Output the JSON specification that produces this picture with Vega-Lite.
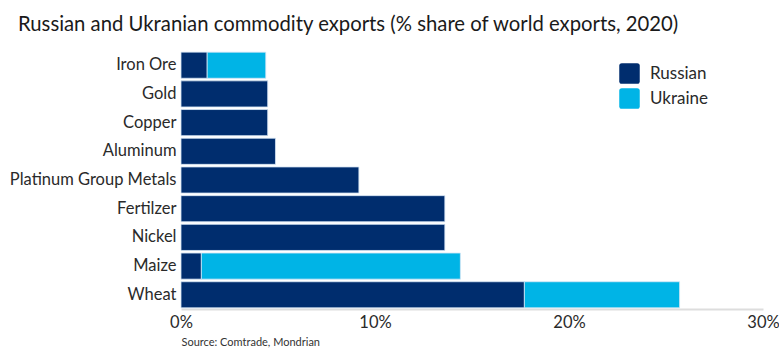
{
  "$schema": "https://vega.github.io/schema/vega-lite/v6.json",
  "width": 582,
  "height": 258,
  "autosize": {"type": "none"},
  "padding": {"left": 181, "top": 51, "right": 16, "bottom": 40},
  "background": "#ffffff",
  "title": {
    "text": "Russian and Ukranian commodity exports (% share of world exports, 2020)",
    "anchor": "start",
    "frame": "group",
    "dx": -163,
    "offset": 16,
    "font": "Lato",
    "fontSize": 20.3,
    "fontWeight": "normal",
    "color": "#1a1a1a"
  },
  "data": {
    "values": [
      {"commodity": "Iron Ore", "country": "Russian", "share": 1.35},
      {"commodity": "Iron Ore", "country": "Ukraine", "share": 3.02},
      {"commodity": "Gold", "country": "Russian", "share": 4.47},
      {"commodity": "Copper", "country": "Russian", "share": 4.47},
      {"commodity": "Aluminum", "country": "Russian", "share": 4.87},
      {"commodity": "Platinum Group Metals", "country": "Russian", "share": 9.17},
      {"commodity": "Fertilzer", "country": "Russian", "share": 13.6},
      {"commodity": "Nickel", "country": "Russian", "share": 13.6},
      {"commodity": "Maize", "country": "Russian", "share": 1.05},
      {"commodity": "Maize", "country": "Ukraine", "share": 13.35},
      {"commodity": "Wheat", "country": "Russian", "share": 17.7},
      {"commodity": "Wheat", "country": "Ukraine", "share": 8.0}
    ]
  },
  "mark": {"type": "bar", "stroke": "#d6e6f5", "strokeWidth": 0.8},
  "encoding": {
    "y": {
      "field": "commodity",
      "type": "nominal",
      "sort": ["Iron Ore", "Gold", "Copper", "Aluminum", "Platinum Group Metals", "Fertilzer", "Nickel", "Maize", "Wheat"],
      "scale": {"paddingInner": 0.09, "paddingOuter": 0.04},
      "axis": {
        "title": null,
        "domain": false,
        "ticks": false,
        "labelPadding": 5,
        "labelFont": "Lato",
        "labelFontSize": 16.5,
        "labelColor": "#2a2a2a"
      }
    },
    "x": {
      "field": "share",
      "type": "quantitative",
      "stack": "zero",
      "scale": {"domain": [0, 30], "nice": false},
      "axis": {
        "title": "Source: Comtrade, Mondrian",
        "titleAnchor": "start",
        "titleAlign": "left",
        "titleFont": "Lato",
        "titleFontSize": 11,
        "titleFontWeight": "normal",
        "titleColor": "#333333",
        "titlePadding": 6,
        "values": [0, 10, 20, 30],
        "labelExpr": "datum.value + '%'",
        "labelFont": "Lato",
        "labelFontSize": 16.5,
        "labelColor": "#2a2a2a",
        "labelPadding": 5,
        "labelFlush": false,
        "grid": false,
        "ticks": false,
        "domain": true,
        "domainColor": "#dddddd",
        "domainWidth": 2
      }
    },
    "color": {
      "field": "country",
      "type": "nominal",
      "scale": {"domain": ["Russian", "Ukraine"], "range": ["#002d6e", "#00b4e6"]},
      "legend": {
        "title": null,
        "orient": "none",
        "legendX": 438,
        "legendY": 12,
        "symbolType": "M-1,-0.75Q-1,-1,-0.75,-1L0.75,-1Q1,-1,1,-0.75L1,0.75Q1,1,0.75,1L-0.75,1Q-1,1,-1,0.75Z",
        "symbolSize": 420,
        "symbolStrokeWidth": 0,
        "symbolOpacity": 1,
        "rowPadding": 4,
        "labelFont": "Lato",
        "labelFontSize": 17,
        "labelColor": "#2a2a2a",
        "labelOffset": 10
      }
    }
  },
  "config": {"view": {"stroke": null}}
}
